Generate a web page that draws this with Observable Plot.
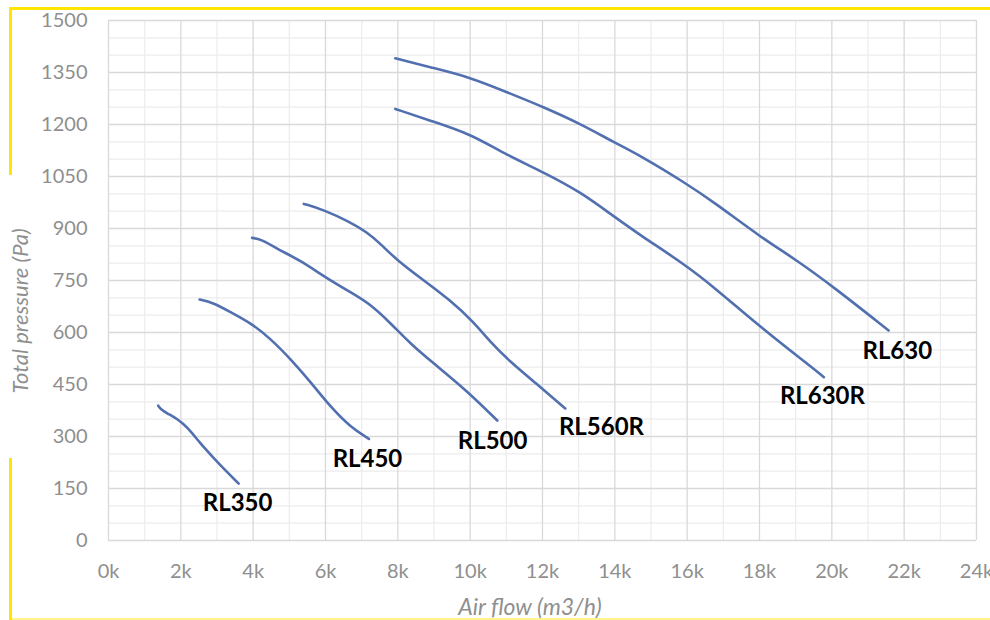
<!DOCTYPE html>
<html>
<head>
<meta charset="utf-8">
<script src="https://cdn.jsdelivr.net/npm/d3@7"></script>
<script src="https://cdn.jsdelivr.net/npm/@observablehq/plot@0.6"></script>
<style>
  html, body { margin: 0; padding: 0; background: #fff; overflow: hidden; }
  #wrap { position: relative; width: 990px; height: 620px; }
  .yl { position: absolute; background: #ffe600; }
</style>
</head>
<body>
<div id="wrap">
  <div class="yl" style="left:10px; top:7px; width:980px; height:3px;"></div>
  <div class="yl" style="left:9px; top:7px; width:3px; height:168px;"></div>
  <div class="yl" style="left:9px; top:458px; width:3px; height:162px;"></div>
  <div class="yl" style="left:10px; top:618px; width:980px; height:2px; opacity:0.45;"></div>
  <div id="chart"></div>
</div>
<script>
// ---- data (air flow in m3/h, total pressure in Pa) ----
const rl350Flow = [1374, 1438, 1620, 1900, 2180, 2540, 2900, 3290, 3600];
const rl350Pres = [389, 379, 367, 351, 327, 280, 239, 196, 164];

const rl450Flow = [2520, 2870, 3370, 3970, 4480, 5030, 5590, 6140, 6690, 7200];
const rl450Pres = [695, 687, 659, 625, 582, 524, 457, 385, 327, 293];

const rl500Flow = [3970, 4250, 4660, 5310, 5950, 6690, 7200, 7800, 8350, 9000, 9900, 10750];
const rl500Pres = [873, 868, 841, 808, 762, 716, 685, 627, 567, 510, 433, 346];

const rl560rFlow = [5400, 5950, 6690, 7150, 7520, 7980, 8720, 9460, 10100, 10560, 11070, 11800, 12630];
const rl560rPres = [971, 954, 918, 889, 856, 808, 750, 692, 630, 572, 519, 455, 381];

const rl630rFlow = [7930, 8900, 10010, 11020, 12040, 13050, 13880, 14710, 15910, 16740, 18030, 19500, 19780];
const rl630rPres = [1245, 1211, 1173, 1111, 1062, 1005, 942, 880, 798, 731, 615, 495, 471];

const rl630Flow = [7930, 8900, 10010, 11020, 12040, 13050, 13970, 14710, 15910, 16740, 18030, 19040, 20050, 21570];
const rl630Pres = [1391, 1365, 1336, 1293, 1250, 1202, 1149, 1110, 1034, 976, 875, 808, 731, 606];

const labelNames = ["RL350", "RL450", "RL500", "RL560R", "RL630R", "RL630"];
const labelX = [3570, 7160, 10620, 13630, 19740, 21810];
const labelY = [107, 234, 286, 326, 415, 545];

const xTicks = [0, 2000, 4000, 6000, 8000, 10000, 12000, 14000, 16000, 18000, 20000, 22000, 24000];
const yTicks = [0, 150, 300, 450, 600, 750, 900, 1050, 1200, 1350, 1500];

// ---- build tables ----
const seriesDefs = [
  ["RL350", rl350Flow, rl350Pres],
  ["RL450", rl450Flow, rl450Pres],
  ["RL500", rl500Flow, rl500Pres],
  ["RL560R", rl560rFlow, rl560rPres],
  ["RL630R", rl630rFlow, rl630rPres],
  ["RL630", rl630Flow, rl630Pres]
];
const points = seriesDefs.flatMap(([name, fx, py]) => fx.map((f, i) => ({name, flow: f, pressure: py[i]})));
const labels = labelNames.map((n, i) => ({name: n, flow: labelX[i], pressure: labelY[i]}));

const FONT = "Lato, 'Open Sans', sans-serif";
const TICKCOLOR = "#8f8f8f";

const chart = Plot.plot({
  width: 990,
  height: 620,
  marginLeft: 108,
  marginRight: 14,
  marginTop: 20,
  marginBottom: 80,
  style: {fontFamily: FONT, fontSize: "20px", background: "transparent"},
  x: {domain: [0, 24000]},
  y: {domain: [0, 1500]},
  marks: [
    Plot.gridX({ticks: d3.range(1000, 24000, 2000), stroke: "#ececec", strokeOpacity: 1, strokeWidth: 1.2}),
    Plot.gridY({ticks: d3.range(0, 1501, 50).filter(v => v % 150 !== 0), stroke: "#ececec", strokeOpacity: 1, strokeWidth: 1.2}),
    Plot.gridX({ticks: xTicks, stroke: "#d9d9d9", strokeOpacity: 1, strokeWidth: 1.3}),
    Plot.gridY({ticks: yTicks, stroke: "#d9d9d9", strokeOpacity: 1, strokeWidth: 1.3}),
    Plot.axisX({ticks: xTicks, tickFormat: d => (d / 1000) + "k", tickSize: 0, tickPadding: 23,
      fill: TICKCOLOR, fontSize: 20, label: null}),
    Plot.axisY({ticks: yTicks, tickFormat: d => String(d), tickSize: 0, tickPadding: 21,
      fill: TICKCOLOR, fontSize: 20, label: null}),
    Plot.line(points, {x: "flow", y: "pressure", z: "name", stroke: "#5270b0", strokeWidth: 2.6,
      curve: "basis"}),
    Plot.text(labels, {x: "flow", y: "pressure", text: "name", fill: "#000", fontWeight: "bold",
      fontSize: 24, fontFamily: FONT})
  ]
});

// axis titles
const svg = d3.select(chart);
svg.append("text")
  .attr("transform", "translate(19,311) rotate(-90)")
  .attr("text-anchor", "middle").attr("dominant-baseline", "central")
  .attr("fill", TICKCOLOR).attr("font-style", "italic").attr("font-size", 22)
  .attr("font-family", FONT)
  .text("Total pressure (Pa)");
svg.append("text")
  .attr("x", 530).attr("y", 606)
  .attr("text-anchor", "middle").attr("dominant-baseline", "central")
  .attr("fill", TICKCOLOR).attr("font-style", "italic").attr("font-size", 23)
  .attr("font-family", FONT)
  .text("Air flow (m3/h)");

document.getElementById("chart").appendChild(chart);
</script>
</body>
</html>
